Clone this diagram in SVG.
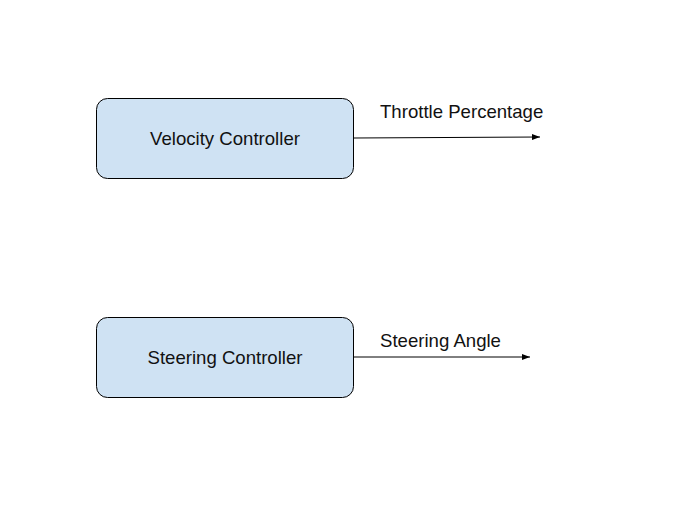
<svg xmlns="http://www.w3.org/2000/svg" width="676" height="517" viewBox="0 0 676 517">
<style>
.box{fill:#cfe2f3;stroke:#000;stroke-width:1}
.lbl{font-family:"Liberation Sans",Arial,sans-serif;font-size:18.6px;fill:#111}
.conn{stroke:#000;stroke-width:1;fill:none}
</style>
<defs>
<marker id="ah" markerWidth="8" markerHeight="6" refX="8" refY="3" orient="auto" markerUnits="userSpaceOnUse">
<path d="M0,0 L8,3 L0,6 Z" fill="#000"/>
</marker>
</defs>
<rect width="676" height="517" fill="#fff"/>
<g id="velocity">
<rect class="box" x="96.5" y="98.5" width="257" height="80" rx="11"/>
<text class="lbl" x="225" y="145" text-anchor="middle">Velocity Controller</text>
</g>
<g id="steering">
<rect class="box" x="96.5" y="317.5" width="257" height="80" rx="11"/>
<text class="lbl" x="225" y="364" text-anchor="middle">Steering Controller</text>
</g>
<g id="connectors">
<line class="conn" x1="354" y1="138" x2="540" y2="137" marker-end="url(#ah)"/>
<line class="conn" x1="354" y1="357" x2="530" y2="357" marker-end="url(#ah)"/>
</g>
<g id="labels">
<text class="lbl" x="380" y="117.5">Throttle Percentage</text>
<text class="lbl" x="380" y="346.5">Steering Angle</text>
</g>
</svg>
